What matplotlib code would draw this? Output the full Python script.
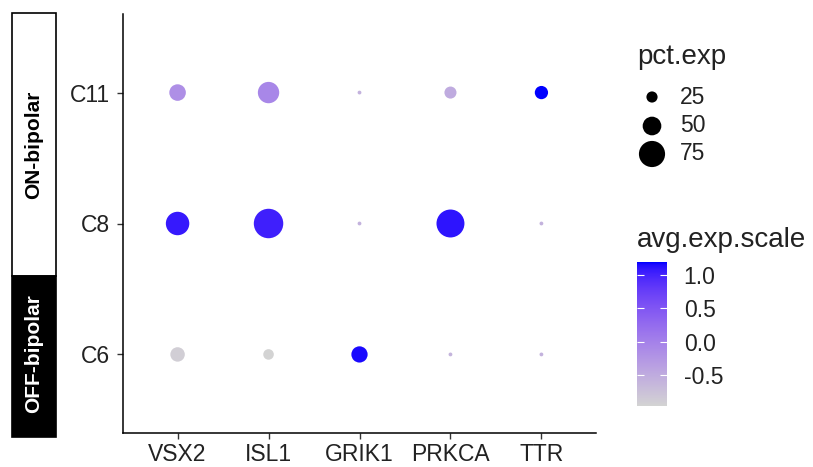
import numpy as np
import matplotlib
matplotlib.use("Agg")
import matplotlib.pyplot as plt
from matplotlib.colors import ListedColormap, Normalize
from matplotlib.patches import Rectangle

# ---------------- data ----------------
genes = ["VSX2", "ISL1", "GRIK1", "PRKCA", "TTR"]
clusters = ["C6", "C8", "C11"]  # bottom to top
pct_C6 = [36, 23, 42, 0.5, 0.5]
pct_C8 = [66, 86, 0.5, 81, 0.5]
pct_C11 = [43, 59, 0.5, 28, 32]
avg_C6 = [-0.90, -0.965, 1.15, -0.60, -0.577]
avg_C8 = [1.07, 1.03, -0.577, 1.10, -0.577]
avg_C11 = [-0.17, -0.07, -0.577, -0.50, 1.19]
size_breaks = [25, 50, 75]
cbar_ticks = [-0.5, 0.0, 0.5, 1.0]
groups = ["ON-bipolar", "OFF-bipolar"]

pct = np.array([pct_C6, pct_C8, pct_C11], dtype=float)
avg = np.array([avg_C6, avg_C8, avg_C11], dtype=float)

plt.rcParams['font.family'] = ['Liberation Sans', 'DejaVu Sans']
W, H, DPI = 813, 467, 100

# ---------- Lab-interpolated gradient (lightgrey -> blue) ----------
def srgb_to_lab(rgb):
    rgb = np.asarray(rgb, float)
    lin = np.where(rgb <= 0.04045, rgb / 12.92, ((rgb + 0.055) / 1.055) ** 2.4)
    M = np.array([[0.4124, 0.3576, 0.1805],
                  [0.2126, 0.7152, 0.0722],
                  [0.0193, 0.1192, 0.9505]])
    xyz = M @ lin
    wp = np.array([0.95047, 1.0, 1.08883])
    t = xyz / wp
    f = np.where(t > (6/29) ** 3, np.cbrt(t), t / (3 * (6/29) ** 2) + 4/29)
    return np.array([116 * f[1] - 16, 500 * (f[0] - f[1]), 200 * (f[1] - f[2])])

def lab_to_srgb(lab):
    L, a, b = lab
    fy_ = (L + 16) / 116
    fx_ = fy_ + a / 500
    fz_ = fy_ - b / 200
    f = np.array([fx_, fy_, fz_])
    t = np.where(f > 6/29, f ** 3, 3 * (6/29) ** 2 * (f - 4/29))
    wp = np.array([0.95047, 1.0, 1.08883])
    xyz = t * wp
    Minv = np.array([[3.2406, -1.5372, -0.4986],
                     [-0.9689, 1.8758, 0.0415],
                     [0.0557, -0.2040, 1.0570]])
    lin = np.clip(Minv @ xyz, 0, 1)
    rgb = np.where(lin <= 0.0031308, 12.92 * lin, 1.055 * lin ** (1/2.4) - 0.055)
    return np.clip(rgb, 0, 1)

lab0 = srgb_to_lab(np.array([211, 211, 211]) / 255)
lab1 = srgb_to_lab(np.array([0, 0, 255]) / 255)
cols = [lab_to_srgb(lab0 + (lab1 - lab0) * t) for t in np.linspace(0, 1, 256)]
cmap = ListedColormap(cols)
norm = Normalize(vmin=avg.min(), vmax=avg.max())

def radius_px(p):
    return 1.83 + 0.15 * np.asarray(p, float)

def s_of(p):
    return (2 * radius_px(p) * 72.0 / DPI) ** 2

# ---------------- figure ----------------
fig = plt.figure(figsize=(W / DPI, H / DPI), dpi=DPI)

def fx(px):
    return px / W

def fy(py):
    return 1 - py / H

ax = fig.add_axes([fx(123), fy(433), fx(596) - fx(123), fy(14) - fy(433)])
X, Y = np.meshgrid(np.arange(1, len(genes) + 1), np.arange(1, len(clusters) + 1))
sc = ax.scatter(X.ravel(), Y.ravel(), s=s_of(pct.ravel()), c=avg.ravel(),
                cmap=cmap, norm=norm, linewidths=0, zorder=3)
ax.set_xlim(0.4, len(genes) + 0.6)
ax.set_ylim(0.4, len(clusters) + 0.6)
ax.set_xticks(np.arange(1, len(genes) + 1))
ax.set_xticklabels(genes)
ax.set_yticks(np.arange(1, len(clusters) + 1))
ax.set_yticklabels(clusters)
for sp in ["top", "right"]:
    ax.spines[sp].set_visible(False)
for sp in ["left", "bottom"]:
    ax.spines[sp].set_linewidth(1.1)
    ax.spines[sp].set_color("black")
ax.tick_params(axis="both", labelsize=16.5, length=4.5, width=1.0,
               color="#333333", labelcolor="#222222")
ax.tick_params(axis="y", pad=5)
ax.tick_params(axis="x", pad=3)

# ---------------- left group annotation ----------------
bx0, bx1 = fx(12), fx(56)
fig.patches.append(Rectangle((bx0, fy(276)), bx1 - bx0, fy(13) - fy(276),
                             transform=fig.transFigure, facecolor="white",
                             edgecolor="black", linewidth=1.2))
fig.patches.append(Rectangle((bx0, fy(437)), bx1 - bx0, fy(276) - fy(437),
                             transform=fig.transFigure, facecolor="black",
                             edgecolor="black", linewidth=1.2))
fig.text((bx0 + bx1) / 2, fy(145), groups[0], rotation=90, ha="center", va="center",
         fontsize=15, fontweight="bold", color="black")
fig.text((bx0 + bx1) / 2, fy(354), groups[1], rotation=90, ha="center", va="center",
         fontsize=15, fontweight="bold", color="white")

# ---------------- size legend ----------------
fig.text(fx(637), fy(57), "pct.exp", fontsize=20, ha="left", va="center", color="#222222")
lax = fig.add_axes([fx(630), fy(168), fx(720) - fx(630), fy(83) - fy(168)])
lax.set_xlim(0, 90)
lax.set_ylim(168, 83)
ly = [97, 126, 154]
lax.scatter([22] * 3, ly, s=s_of(size_breaks), c="black", linewidths=0)
for yv, b in zip(ly, size_breaks):
    lax.text(50, yv, str(b), fontsize=16.5, ha="left", va="center", color="#222222")
lax.axis("off")

# ---------------- colour bar ----------------
fig.text(fx(637), fy(240), "avg.exp.scale", fontsize=20, ha="left", va="center",
         color="#222222")
cax = fig.add_axes([fx(637), fy(406), fx(667) - fx(637), fy(262) - fy(406)])
cb = fig.colorbar(sc, cax=cax, ticks=cbar_ticks)
cb.outline.set_visible(False)
cb.ax.set_yticklabels([f"{t:.1f}" for t in cbar_ticks])
cb.ax.tick_params(direction="in", length=5, width=0.8, color="white",
                  labelsize=16.5, labelcolor="#222222", pad=12, left=True, right=True)

fig.savefig("out.png", dpi=DPI)
